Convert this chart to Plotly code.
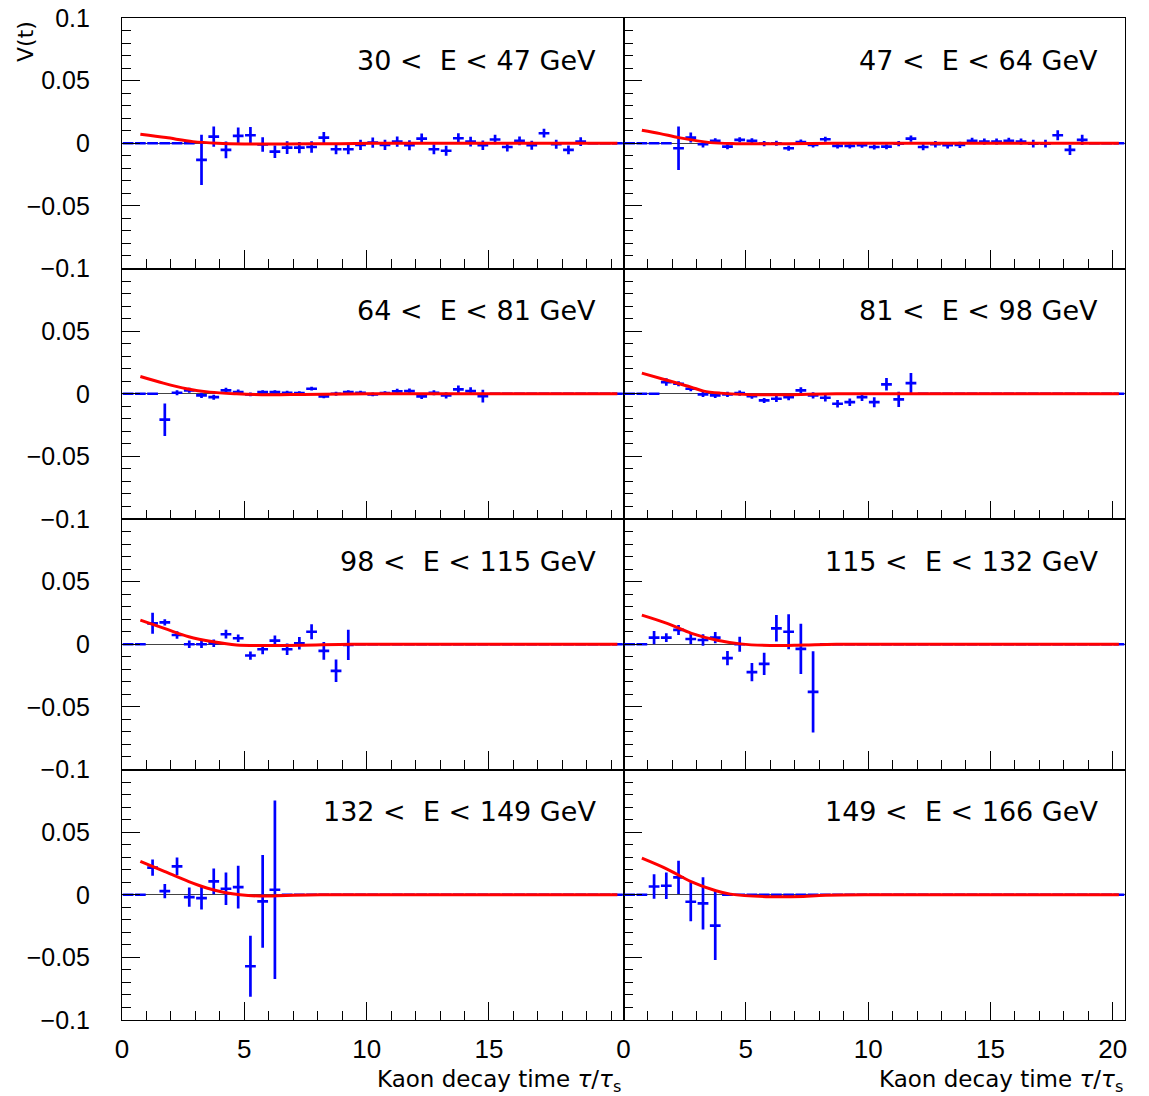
import plotly.graph_objects as go
from plotly.subplots import make_subplots

# ---------------- data ----------------
bin_centers = [0.25, 0.75, 1.25, 1.75, 2.25, 2.75, 3.25, 3.75, 4.25, 4.75, 5.25, 5.75,
               6.25, 6.75, 7.25, 7.75, 8.25, 8.75, 9.25, 9.75, 10.25, 10.75, 11.25, 11.75,
               12.25, 12.75, 13.25, 13.75, 14.25, 14.75, 15.25, 15.75, 16.25, 16.75, 17.25,
               17.75, 18.25, 18.75, 19.25, 19.75, 20.25]

panel_labels = ["30 <\u00a0 E < 47 GeV", "47 <\u00a0 E < 64 GeV", "64 <\u00a0 E < 81 GeV",
                "81 <\u00a0 E < 98 GeV", "98 <\u00a0 E < 115 GeV", "115 <\u00a0 E < 132 GeV",
                "132 <\u00a0 E < 149 GeV", "149 <\u00a0 E < 166 GeV"]

# index of first filled bin for each panel
panel_first_bin = [6, 4, 3, 3, 2, 2, 2, 2]

v1 = [-0.0133, 0.0053, -0.0053, 0.0059, 0.0064, -0.001, -0.0067, -0.0035, -0.0035, -0.003,
      0.0045, -0.0048, -0.0048, -0.0013, 0.0005, -0.0013, 0.0013, -0.0016, 0.0037, -0.0048,
      -0.006, 0.004, 0.0013, -0.0016, 0.003, -0.003, 0.0019, -0.0016, 0.008, -0.0008, -0.0053, 0.0013]
e1 = [0.020, 0.008, 0.0067, 0.0067, 0.0065, 0.0058, 0.005, 0.005, 0.0045, 0.0045, 0.0045,
      0.004, 0.004, 0.004, 0.004, 0.004, 0.004, 0.004, 0.004, 0.004, 0.004, 0.004, 0.0038,
      0.0038, 0.0038, 0.0035, 0.0035, 0.0035, 0.0035, 0.0035, 0.0035, 0.0035]

v2 = [-0.004, 0.0045, -0.0008, 0.0019, -0.0027, 0.0027, 0.0019, -0.0003, 0.0, -0.004, 0.001,
      -0.0013, 0.0032, -0.0021, -0.0021, -0.0016, -0.003, -0.0027, -0.0003, 0.0037, -0.003,
      -0.0008, -0.0016, -0.0013, 0.0019, 0.0013, 0.0013, 0.0019, 0.0013, -0.0003, -0.0003,
      0.0064, -0.0053, 0.0027]
e2 = [0.0173, 0.004, 0.0025, 0.002, 0.002, 0.002, 0.002, 0.002, 0.002, 0.002, 0.002, 0.002,
      0.002, 0.002, 0.002, 0.002, 0.002, 0.002, 0.002, 0.0025, 0.0025, 0.0025, 0.0025, 0.0025,
      0.0025, 0.0025, 0.0025, 0.0025, 0.0025, 0.003, 0.003, 0.004, 0.004, 0.004]

v3 = [-0.0207, 0.0008, 0.0027, -0.0013, -0.0027, 0.0027, 0.0013, -0.0005, 0.0013, 0.0013,
      0.0008, 0.0005, 0.004, -0.0021, 0.0, 0.0013, 0.0008, -0.0005, 0.0005, 0.0019, 0.0021,
      -0.0021, 0.0008, -0.0013, 0.0035, 0.0021, -0.0019]
e3 = [0.013, 0.002, 0.002, 0.002, 0.002, 0.002, 0.002, 0.0015, 0.0015, 0.0015, 0.0015, 0.0015,
      0.0015, 0.0015, 0.0015, 0.0015, 0.0015, 0.0015, 0.0015, 0.002, 0.002, 0.002, 0.002, 0.0025,
      0.003, 0.003, 0.005]

v4 = [0.0093, 0.008, 0.004, -0.0005, -0.0013, -0.0005, 0.0005, -0.0019, -0.0053, -0.004,
      -0.0027, 0.0027, -0.0013, -0.0032, -0.008, -0.0067, -0.0027, -0.0067, 0.0075, -0.0045, 0.0085]
e4 = [0.003, 0.002, 0.002, 0.002, 0.002, 0.002, 0.002, 0.002, 0.002, 0.0025, 0.0025, 0.0025,
      0.0025, 0.003, 0.003, 0.003, 0.003, 0.004, 0.005, 0.006, 0.008]

v5 = [0.0167, 0.0175, 0.0074, 0.0, 0.0, 0.0008, 0.008, 0.0048, -0.009, -0.004, 0.0029, -0.004,
      0.0008, 0.010, -0.0053, -0.0212, -0.0005]
e5 = [0.0084, 0.0025, 0.003, 0.003, 0.003, 0.003, 0.0035, 0.003, 0.0033, 0.004, 0.004, 0.0045,
      0.005, 0.006, 0.007, 0.009, 0.012]

v6 = [0.0053, 0.0053, 0.0114, 0.0042, 0.0034, 0.0053, -0.0111, 0.0, -0.0223, -0.0156, 0.0127,
      0.010, -0.0037, -0.038]
e6 = [0.0053, 0.0035, 0.004, 0.004, 0.0045, 0.0045, 0.0057, 0.006, 0.0073, 0.0089, 0.0106,
      0.014, 0.02, 0.0325]

v7 = [0.0216, 0.0029, 0.0227, -0.0019, -0.0027, 0.0107, 0.0048, 0.0061, -0.0571, -0.0053, 0.004]
e7 = [0.0065, 0.0057, 0.007, 0.0076, 0.009, 0.0103, 0.013, 0.017, 0.0243, 0.037, 0.0713]

v8 = [0.0066, 0.0072, 0.0138, -0.0056, -0.0069, -0.0246]
e8 = [0.0097, 0.0105, 0.0133, 0.0156, 0.0209, 0.0275]

panel_values = [v1, v2, v3, v4, v5, v6, v7, v8]
panel_errors = [e1, e2, e3, e4, e5, e6, e7, e8]

# fitted curves
fx1 = [0.75, 1.8, 2.9, 3.9, 5.0, 6.7, 8.9, 10.9, 14.0, 20.25]
fy1 = [0.0072, 0.0045, 0.0013, 0.0, -0.0005, -0.0005, -0.0003, 0.0, 0.0, 0.0]
fx2 = [0.75, 1.5, 2.26, 3.55, 4.6, 6.7, 9.4, 14.0, 20.25]
fy2 = [0.0104, 0.0077, 0.0045, 0.0005, -0.0003, -0.0003, 0.0, 0.0, 0.0]
fx3 = [0.75, 1.69, 2.64, 3.59, 4.68, 6.0, 7.4, 10.1, 14.0, 20.25]
fy3 = [0.0138, 0.0085, 0.004, 0.0013, 0.0, -0.0008, -0.0005, 0.0, 0.0, 0.0]
fx4 = [0.75, 1.74, 2.76, 3.28, 3.96, 5.3, 6.7, 8.7, 14.0, 20.25]
fy4 = [0.0165, 0.011, 0.0053, 0.0021, 0.0005, -0.0008, -0.0008, 0.0, 0.0, 0.0]
fx5 = [0.75, 1.73, 2.73, 3.73, 4.68, 6.0, 7.4, 9.4, 14.0, 20.25]
fy5 = [0.0193, 0.0127, 0.006, 0.002, -0.0005, -0.001, -0.0008, 0.0, 0.0, 0.0]
fx6 = [0.75, 1.78, 2.78, 3.78, 4.78, 6.0, 7.4, 8.7, 14.0, 20.25]
fy6 = [0.0233, 0.0167, 0.0087, 0.0034, 0.0003, -0.001, -0.0005, 0.0, 0.0, 0.0]
fx7 = [0.75, 1.73, 2.73, 3.5, 4.24, 4.82, 5.63, 6.72, 8.1, 14.0, 20.25]
fy7 = [0.0267, 0.0187, 0.0105, 0.0052, 0.0016, 0.0, -0.001, -0.0005, 0.0, 0.0, 0.0]
fx8 = [0.75, 1.78, 2.76, 3.78, 4.37, 6.0, 7.36, 8.0, 10.0, 14.0, 20.25]
fy8 = [0.0292, 0.0205, 0.0105, 0.0032, 0.0005, -0.0016, -0.0013, -0.0005, 0.0, 0.0, 0.0]

fit_x = [fx1, fx2, fx3, fx4, fx5, fx6, fx7, fx8]
fit_y = [fy1, fy2, fy3, fy4, fy5, fy6, fy7, fy8]

x_ticks_left = [0, 5, 10, 15]
x_ticks_right = [0, 5, 10, 15, 20]
y_ticks_top = [-0.1, -0.05, 0, 0.05, 0.1]
y_ticktext_top = ["\u22120.1", "\u22120.05", "0", "0.05", "0.1"]
y_ticks_other = [-0.1, -0.05, 0, 0.05]
y_ticktext_other = ["\u22120.1", "\u22120.05", "0", "0.05"]

x_title = "Kaon decay time <i>\u03c4</i>/<i>\u03c4</i><sub>s</sub>"
y_title = "V(t)"

# ---------------- figure ----------------
BLUE = "#0000ff"
RED = "#ff0000"
FONT = "Liberation Sans, Arial, sans-serif"
LFONT = "DejaVu Sans, sans-serif"

fig = make_subplots(rows=4, cols=2, horizontal_spacing=0, vertical_spacing=0)

for i in range(8):
    r = i // 2 + 1
    c = i % 2 + 1
    yv = [0.0] * len(bin_centers)
    ye = [0.0] * len(bin_centers)
    s = panel_first_bin[i]
    for k, (v, e) in enumerate(zip(panel_values[i], panel_errors[i])):
        yv[s + k] = v
        ye[s + k] = e
    fig.add_trace(go.Scatter(
        x=bin_centers, y=yv, mode="markers",
        marker=dict(size=1, color=BLUE, opacity=0),
        error_y=dict(type="data", array=ye, visible=True, color=BLUE, thickness=2.7, width=0),
        error_x=dict(type="constant", value=0.22, visible=True, color=BLUE, thickness=2.7, width=0),
        showlegend=False, hoverinfo="skip"), row=r, col=c)
    fig.add_trace(go.Scatter(
        x=fit_x[i], y=fit_y[i], mode="lines",
        line=dict(color=RED, width=3, shape="spline", smoothing=0.9),
        showlegend=False, hoverinfo="skip"), row=r, col=c)

    fig.update_xaxes(
        range=[0, 20.5], row=r, col=c, automargin=False,
        showline=True, linecolor="black", linewidth=1.2, mirror=True,
        showgrid=False, zeroline=False,
        ticks="inside", ticklen=18, tickwidth=1, tickcolor="black",
        tickmode="array", tickvals=x_ticks_left if c == 1 else x_ticks_right,
        minor=dict(ticks="inside", ticklen=9, tickwidth=1, tickcolor="black",
                   tickmode="linear", tick0=0, dtick=1, showgrid=False),
        showticklabels=(r == 4),
        tickfont=dict(family=FONT, size=26, color="black"),
        ticklabelstandoff=6,
    )
    fig.update_yaxes(
        range=[-0.1, 0.1], row=r, col=c, automargin=False,
        showline=True, linecolor="black", linewidth=1.2, mirror=True,
        showgrid=False, zeroline=True, zerolinecolor="#444444", zerolinewidth=1,
        ticks="inside", ticklen=18, tickwidth=1, tickcolor="black",
        tickmode="array",
        tickvals=y_ticks_top if r == 1 else y_ticks_other,
        ticktext=y_ticktext_top if r == 1 else y_ticktext_other,
        minor=dict(ticks="inside", ticklen=9, tickwidth=1, tickcolor="black",
                   tickmode="linear", tick0=0, dtick=0.01, showgrid=False),
        showticklabels=(c == 1),
        tickfont=dict(family=FONT, size=25, color="black"),
        ticklabelstandoff=26,
    )

# panel labels
L, R, T, B = 122, 1125, 18, 1020
PW, PH = R - L, B - T
for i, lab in enumerate(panel_labels):
    r = i // 2
    c = i % 2
    xr = 598 if c == 0 else 1100
    yc = 60 + r * 250.5
    fig.add_annotation(text=lab, xref="paper", yref="paper",
                       x=(xr - L) / PW, y=(B - yc) / PH, xanchor="right", yanchor="middle",
                       showarrow=False, font=dict(family=LFONT, size=27, color="black"))

# axis titles
for xr in (623, 1125):
    fig.add_annotation(text=x_title, xref="paper", yref="paper",
                       x=(xr - L) / PW, y=(B - 1081) / PH, xanchor="right", yanchor="middle",
                       showarrow=False, font=dict(family=LFONT, size=23, color="black"))
fig.add_annotation(text=y_title, xref="paper", yref="paper", textangle=-90,
                   x=(26 - L) / PW, y=(B - 42) / PH, xanchor="center", yanchor="middle",
                   showarrow=False, font=dict(family=LFONT, size=22, color="black"))

fig.update_layout(
    width=1149, height=1096,
    margin=dict(l=L, r=1149 - R, t=T, b=1096 - B),
    paper_bgcolor="white", plot_bgcolor="white",
    showlegend=False,
)

fig.write_html("out.html", config={"displayModeBar": False},
               post_script="document.body.style.margin='0';document.body.style.overflow='hidden';")
